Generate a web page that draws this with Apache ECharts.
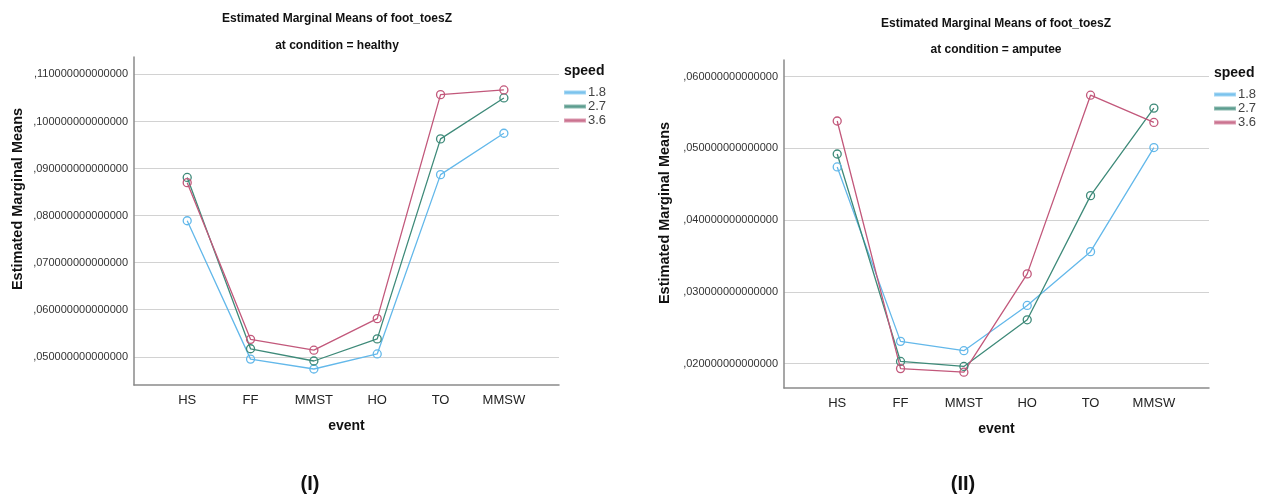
<!DOCTYPE html>
<html>
<head>
<meta charset="utf-8">
<script src="https://cdn.jsdelivr.net/npm/echarts@6/dist/echarts.min.js"></script>
<style>
html, body { margin: 0; padding: 0; background: #fff; }
#main { width: 1266px; height: 499px; }
</style>
</head>
<body>
<div id="main"></div>
<script>
// 数据
var events = ['HS', 'FF', 'MMST', 'HO', 'TO', 'MMSW'];
var speeds = ['1.8', '2.7', '3.6'];
var colors = ['#63b8ea', '#3e8a79', '#c2587b'];

// (I) healthy
var healthy18 = [0.0789, 0.0495, 0.0474, 0.0506, 0.0887, 0.0975];
var healthy27 = [0.0881, 0.0517, 0.0491, 0.0538, 0.0963, 0.1050];
var healthy36 = [0.0870, 0.0537, 0.0514, 0.0581, 0.1057, 0.1067];

// (II) amputee
var amputee18 = [0.0474, 0.0231, 0.0218, 0.0281, 0.0356, 0.0501];
var amputee27 = [0.0492, 0.0203, 0.0196, 0.0261, 0.0434, 0.0556];
var amputee36 = [0.0538, 0.0193, 0.0188, 0.0325, 0.0574, 0.0536];

var font = "'Liberation Sans', Arial, sans-serif";

function pairs(values) {
    return values.map(function (v, i) { return [i, v]; });
}

function makeX(gridIndex) {
    return {
        type: 'value',
        gridIndex: gridIndex,
        min: -0.84,
        max: 5.87,
        name: 'event',
        nameLocation: 'middle',
        nameGap: 34,
        nameTextStyle: { fontFamily: font, fontSize: 14, fontWeight: 'bold', color: '#111' },
        axisLine: { show: true, onZero: false, lineStyle: { color: '#8a8a8a', width: 1.5 } },
        axisTick: { show: false },
        splitLine: { show: false },
        axisLabel: {
            customValues: [0, 1, 2, 3, 4, 5],
            margin: 9,
            fontFamily: font,
            fontSize: 13,
            color: '#222',
            formatter: function (v) { return events[Math.round(v)]; }
        }
    };
}

function makeY(gridIndex, min, max) {
    return {
        type: 'value',
        gridIndex: gridIndex,
        min: min,
        max: max,
        minInterval: 0.01,
        maxInterval: 0.01,
        axisLine: { show: true, onZero: false, lineStyle: { color: '#8a8a8a', width: 1.5 } },
        axisTick: { show: false },
        splitLine: { show: true, showMinLine: false, showMaxLine: false, lineStyle: { color: '#d2d2d2', width: 1 } },
        axisLabel: {
            showMinLabel: false,
            showMaxLabel: false,
            margin: 6,
            fontFamily: font,
            fontSize: 11,
            color: '#333',
            formatter: function (v) { return v.toFixed(15).replace(/^0\./, ','); }
        }
    };
}

function makeSeries(name, values, idx, color) {
    return {
        name: name,
        type: 'line',
        xAxisIndex: idx,
        yAxisIndex: idx,
        data: pairs(values),
        symbol: 'circle',
        symbolSize: 8,
        lineStyle: { color: color, width: 1.3 },
        itemStyle: { color: 'rgba(255,255,255,0)', borderColor: color, borderWidth: 1.3 },
        emphasis: { disabled: true }
    };
}

function makeLegend(left, top) {
    return {
        orient: 'vertical',
        left: left,
        top: top,
        icon: 'rect',
        itemWidth: 20,
        itemHeight: 2,
        itemGap: 1,
        padding: 0,
        textStyle: { fontFamily: font, fontSize: 13, color: '#444', padding: [0, 0, 0, -2] },
        data: speeds.map(function (s, i) {
            return { name: s, itemStyle: { color: colors[i], opacity: 0.6 } };
        })
    };
}

function label(text, x, y, size) {
    return {
        type: 'text',
        x: x,
        y: y,
        style: {
            text: text,
            fontFamily: font,
            fontSize: size,
            fontWeight: 'bold',
            fill: '#111',
            textAlign: 'center',
            textVerticalAlign: 'middle'
        }
    };
}

// 纵轴标题 (竖排)
function yName(x, y) {
    var t = label('Estimated Marginal Means', x, y, 14.5);
    t.rotation = Math.PI / 2;
    return t;
}

var dom = document.getElementById('main');
var myChart = echarts.init(dom);
var option = {
    animation: false,
    graphic: [
        label('Estimated Marginal Means of foot_toesZ', 337, 19, 12),
        label('at condition = healthy', 337, 46, 12),
        label('Estimated Marginal Means of foot_toesZ', 996, 24, 12),
        label('at condition = amputee', 996, 50, 12),
        yName(18, 199),
        yName(665, 213),
        { type: 'text', x: 564, y: 71, style: { text: 'speed', fontFamily: font, fontSize: 14, fontWeight: 'bold', fill: '#111', textVerticalAlign: 'middle' } },
        { type: 'text', x: 1214, y: 73, style: { text: 'speed', fontFamily: font, fontSize: 14, fontWeight: 'bold', fill: '#111', textVerticalAlign: 'middle' } },
        label('(I)', 310, 484, 20),
        label('(II)', 963, 484, 20)
    ],
    legend: [makeLegend(564, 86), makeLegend(1214, 88)],
    grid: [
        { left: 134, right: 707, top: 57, bottom: 114 },
        { left: 784, right: 57, top: 60, bottom: 111 }
    ],
    xAxis: [makeX(0), makeX(1)],
    yAxis: [makeY(0, 0.0440, 0.1137), makeY(1, 0.0166, 0.0623)],
    series: [
        makeSeries('1.8', healthy18, 0, colors[0]),
        makeSeries('2.7', healthy27, 0, colors[1]),
        makeSeries('3.6', healthy36, 0, colors[2]),
        makeSeries('1.8', amputee18, 1, colors[0]),
        makeSeries('2.7', amputee27, 1, colors[1]),
        makeSeries('3.6', amputee36, 1, colors[2])
    ]
};
if (option && typeof option === "object") {
    myChart.setOption(option, true);
}
</script>
</body>
</html>
